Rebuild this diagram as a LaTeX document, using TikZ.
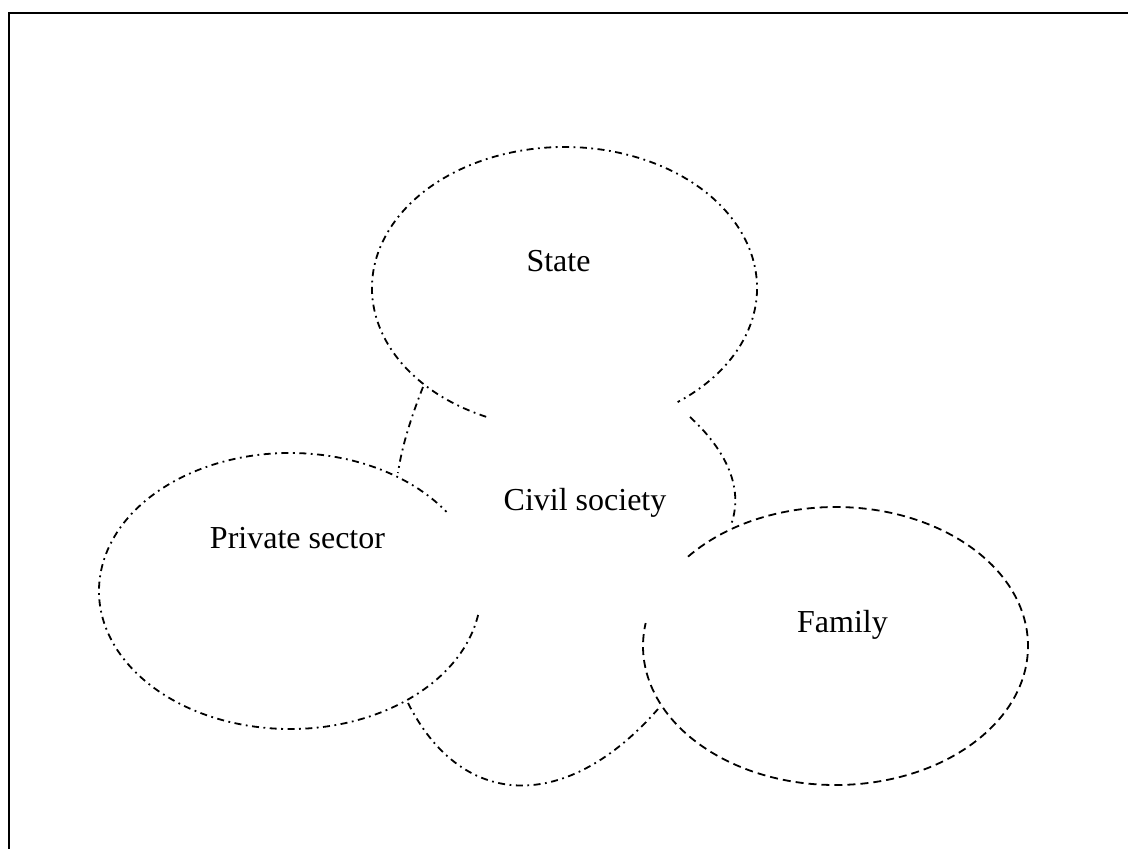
\documentclass[tikz,border=0pt]{standalone}
\usepackage{fontspec}
\setmainfont{Liberation Serif}
\begin{document}
\begin{tikzpicture}[x=1pt,y=-1pt,
  lbl/.style={anchor=base,inner sep=0pt,font=\fontsize{32}{38}\selectfont},
  dashdot/.style={line width=1.8pt,dash pattern=on 7pt off 4.5pt on 1.8pt off 4.5pt},
  dashline/.style={line width=1.8pt,dash pattern=on 8pt off 5pt},
  frame/.style={line width=2.2pt}]
\useasboundingbox (0,0) rectangle (1128,849);
\clip (0,0) rectangle (1128,849);
% frame
\draw[frame] (1140,13) -- (9,13) -- (9,860);
% centres
\coordinate (cS) at (564.5,288);
\coordinate (cP) at (290,591);
\coordinate (cF) at (835.5,646);
% State ellipse (open at bottom)
\draw[dashdot] (cS) ++(114:192.5 and 141) arc[start angle=114, end angle=414, x radius=192.5, y radius=141];
% Private sector ellipse (open at right)
\draw[dashdot] (cP) ++(10:191 and 138) arc[start angle=10, end angle=325, x radius=191, y radius=138];
% Family ellipse (open at upper left)
\draw[dashline] (cF) ++(220:192.5 and 139) arc[start angle=220, end angle=549.5, x radius=192.5, y radius=139];
% civil society boundary
\coordinate (a1) at (423,387);
\coordinate (a2) at (398,473);
\coordinate (b1) at (690,417);
\coordinate (b2) at (731,525);
\coordinate (c1) at (408,703);
\coordinate (c2) at (658,709);
\draw[dashdot] (a1) .. controls (412,415) and (402,445) .. (a2);
\draw[dashdot] (b1) .. controls (715,440) and (747,480) .. (b2);
\draw[dashdot] (c1) .. controls (463,812) and (568,812) .. (c2);
% labels
\node[lbl] (state) at (558.5,271) {State};
\node[lbl] (civil) at (585,510) {Civil society};
\node[lbl] (private) at (297.5,548) {Private sector};
\node[lbl] (family) at (842.5,632) {Family};
\end{tikzpicture}
\end{document}
